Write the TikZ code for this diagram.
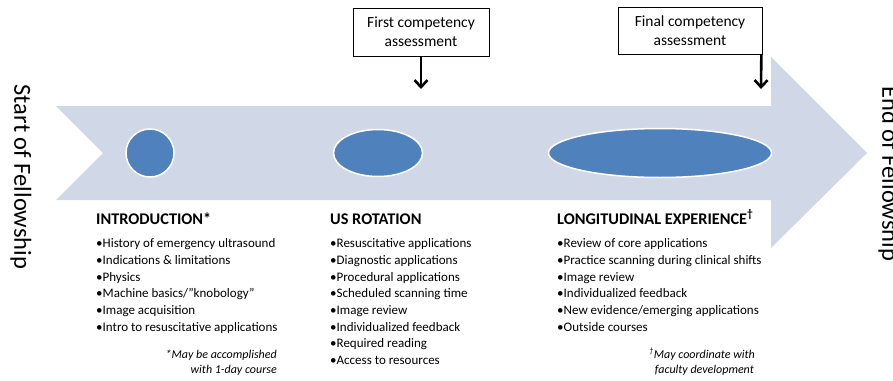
\documentclass[tikz,border=0pt]{standalone}
\usepackage{fontspec}
\setmainfont{Carlito}
\usetikzlibrary{shapes.geometric,arrows.meta}
\definecolor{band}{HTML}{D0D8E8}
\definecolor{blob}{HTML}{4F81BD}
\tikzset{
  blobnode/.style={ellipse, fill=blob, draw=white, line width=1.5pt, inner sep=0pt},
  assessbox/.style={draw, line width=0.7pt, align=center, inner sep=0pt, font=\fontsize{15.5}{19}\selectfont},
  phase/.style={anchor=base west, inner sep=0pt, font=\bfseries\fontsize{16.3}{18}\selectfont},
  item/.style={anchor=base west, inner sep=0pt, font=\fontsize{13}{17}\selectfont},
  note/.style={anchor=base east, inner sep=0pt, font=\itshape\fontsize{12}{15}\selectfont},
  side/.style={rotate=-90, inner sep=0pt, font=\fontsize{24.5}{28}\selectfont},
}
\begin{document}
\begin{tikzpicture}[x=1pt,y=-1pt]
        \useasboundingbox (0,0) rectangle (893,380);
        % the timeline band
        \fill[band] (56,106) -- (771,106) -- (771,57) -- (867,153) -- (771,248)
          -- (771,200) -- (56,200) -- (103,153) -- cycle;
        \node[side] (start) at (21,177) {Start of Fellowship};
        \node[side] (end) at (889,174) {End of Fellowship};
        % phases on the band
        \node[blobnode, minimum width=48pt, minimum height=48pt] (introblob) at (150,153) {};
        \node[blobnode, minimum width=89pt, minimum height=47pt] (usblob) at (378,153) {};
        \node[blobnode, minimum width=223pt, minimum height=49pt] (longblob) at (660,153) {};
        % assessments
        \node[assessbox, minimum width=136pt, minimum height=48pt] (first) at (421,32) {First competency\\assessment};
        \node[assessbox, minimum width=144pt, minimum height=47pt] (final) at (690,30.5) {Final competency\\assessment};
        \coordinate (firsttip) at (421,89);
        \coordinate (finaltip) at (761,89);
        \draw[-{Straight Barb[length=7pt,width=13pt]}, line width=2.6pt] (first.south) -- (firsttip);
        \draw[-{Straight Barb[length=7pt,width=13pt]}, line width=2.6pt] ([xshift=-1pt]final.south east) -- (finaltip);
        % headings
        \node[phase] (introhead) at (96,224) {INTRODUCTION*};
        \node[phase] (ushead) at (330,224) {US ROTATION};
        \node[phase] (longhead) at (557,224) {LONGITUDINAL EXPERIENCE\textsuperscript{†}};
        % lists
        \foreach \t [count=\i] in {History of emergency ultrasound, Indications \& limitations,
          Physics, Machine basics/”knobology”, Image acquisition, Intro to resuscitative applications}
          \node[item] (intro-\i) at (96,231+16.7*\i) {•\t};
        \foreach \t [count=\i] in {Resuscitative applications, Diagnostic applications,
          Procedural applications, Scheduled scanning time, Image review,
          Individualized feedback, Required reading, Access to resources}
          \node[item] (us-\i) at (330,231+16.7*\i) {•\t};
        \foreach \t [count=\i] in {Review of core applications, Practice scanning during clinical shifts,
          Image review, Individualized feedback, New evidence/emerging applications, Outside courses}
          \node[item] (long-\i) at (557,231+16.7*\i) {•\t};
        % footnotes
        \node[note] (intronote-1) at (277,358) {*May be accomplished};
        \node[note] (intronote-2) at (277,373) {with 1-day course};
        \node[note] (longnote-1) at (755,358) {\textsuperscript{†}May coordinate with};
        \node[note] (longnote-2) at (754,373) {faculty development};
\end{tikzpicture}
\end{document}
